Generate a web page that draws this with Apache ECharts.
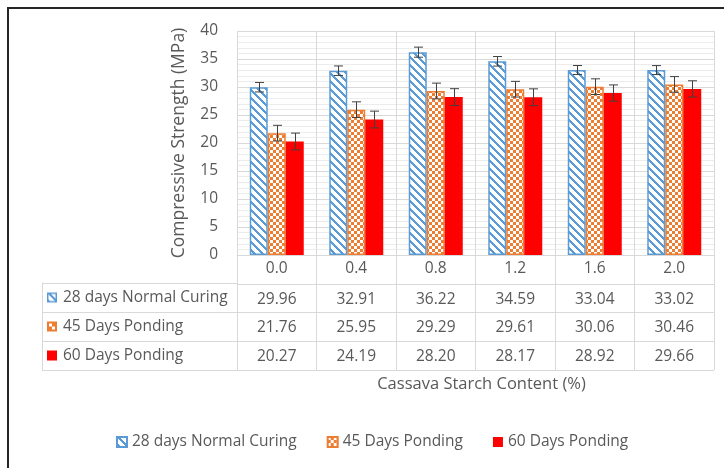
<!DOCTYPE html>
<html>
<head>
<meta charset="utf-8">
<script src="https://cdn.jsdelivr.net/npm/echarts@6/dist/echarts.min.js"></script>
<style>
html,body{margin:0;padding:0;background:#fff;}
#frame{position:absolute;left:7px;top:7px;width:740px;height:480px;border-top:2px solid #262626;border-left:2px solid #262626;}
#chart{position:absolute;left:0;top:0;width:724px;height:468px;}
</style>
</head>
<body>
<div id="frame"></div>
<div id="chart"></div>
<script>
// ---- data ----
const categories = ['0.0', '0.4', '0.8', '1.2', '1.6', '2.0'];
const seriesNames = ['28 days Normal Curing', '45 Days Ponding', '60 Days Ponding'];
const normal28 = [29.96, 32.91, 36.22, 34.59, 33.04, 33.02];
const ponding45 = [21.76, 25.95, 29.29, 29.61, 30.06, 30.46];
const ponding60 = [20.27, 24.19, 28.20, 28.17, 28.92, 29.66];
const err28 = [0.85, 0.85, 0.9, 0.85, 0.8, 0.8];
const err45 = [1.4, 1.4, 1.4, 1.4, 1.4, 1.4];
const err60 = [1.5, 1.5, 1.5, 1.5, 1.45, 1.45];
const yMin = 0, yMax = 40, yInterval = 5;

// ---- styles ----
const BLUE = '#5B9BD5', ORANGE = '#ED7D31', RED = '#FF0000';
const TXT = '#595959', GRID = '#d9d9d9';
const FONT = '"Open Sans", "Liberation Sans", sans-serif';
const FS = 15.5;
const BAR_W = 18;

function stripeCanvas() {
  const c = document.createElement('canvas'); c.width = 8; c.height = 8;
  const g = c.getContext('2d');
  g.fillStyle = '#fff'; g.fillRect(0, 0, 8, 8);
  g.fillStyle = BLUE;
  for (let y = 0; y < 8; y++) for (let x = 0; x < 8; x++) {
    if (((x - y) % 8 + 8) % 8 < 3) g.fillRect(x, y, 1, 1);
  }
  return c;
}
function checkerCanvas() {
  const c = document.createElement('canvas'); c.width = 6; c.height = 6;
  const g = c.getContext('2d');
  g.fillStyle = ORANGE; g.fillRect(0, 0, 6, 6);
  g.fillStyle = '#fff'; g.fillRect(0, 0, 3, 3); g.fillRect(3, 3, 3, 3);
  return c;
}
function iconCanvas(kind) {
  const c = document.createElement('canvas'); c.width = 10; c.height = 10;
  const g = c.getContext('2d');
  if (kind === 0) {
    g.fillStyle = '#fff'; g.fillRect(0, 0, 10, 10);
    g.fillStyle = BLUE;
    for (let y = 0; y < 10; y++) for (let x = 0; x < 10; x++) {
      if (((x - y) % 8 + 8) % 8 < 3) g.fillRect(x, y, 1, 1);
    }
    g.strokeStyle = BLUE; g.lineWidth = 1.5; g.strokeRect(0.75, 0.75, 8.5, 8.5);
  } else if (kind === 1) {
    g.fillStyle = ORANGE; g.fillRect(0, 0, 10, 10);
    g.fillStyle = '#fff'; g.fillRect(2, 2, 3, 3); g.fillRect(5, 5, 3, 3);
  } else {
    g.fillStyle = RED; g.fillRect(0, 0, 10, 10);
  }
  return c;
}

const stripe = { image: stripeCanvas(), repeat: 'repeat' };
const checker = { image: checkerCanvas(), repeat: 'repeat' };
const icons = [iconCanvas(0), iconCanvas(1), iconCanvas(2)];

const values = [normal28, ponding45, ponding60];
const errs = [err28, err45, err60];
const fills = [stripe, checker, RED];
const borders = [BLUE, ORANGE, RED];

const barSeries = values.map((vals, k) => ({
  name: seriesNames[k],
  type: 'bar',
  xAxisIndex: 0, yAxisIndex: 0,
  barWidth: BAR_W,
  barGap: '0%',
  data: vals,
  itemStyle: { color: fills[k], borderColor: borders[k], borderWidth: k === 2 ? 0 : 1.5 },
  z: 2
}));

const errSeries = values.map((vals, k) => ({
  type: 'custom',
  xAxisIndex: 0, yAxisIndex: 0,
  data: vals.map((v, i) => [i, v, errs[k][i]]),
  z: 5,
  silent: true,
  renderItem: function (params, api) {
    const i = api.value(0), v = api.value(1), e = api.value(2);
    const top = api.coord([i, v + e]);
    const bot = api.coord([i, v - e]);
    const x = Math.round(top[0] + (k - 1) * BAR_W) + 0.5;
    const hw = 4.5;
    const st = { stroke: '#404040', lineWidth: 1 };
    return {
      type: 'group',
      children: [
        { type: 'line', shape: { x1: x, y1: top[1], x2: x, y2: bot[1] }, style: st },
        { type: 'line', shape: { x1: x - hw, y1: top[1], x2: x + hw, y2: top[1] }, style: st },
        { type: 'line', shape: { x1: x - hw, y1: bot[1], x2: x + hw, y2: bot[1] }, style: st }
      ]
    };
  }
}));

const tableData = [];
values.forEach((vals, k) => vals.forEach((v, i) => tableData.push([i, k + 1, v])));

const tableSeries = {
  type: 'custom',
  xAxisIndex: 1, yAxisIndex: 1,
  data: tableData,
  silent: true,
  renderItem: function (params, api) {
    const p = api.coord([api.value(0), api.value(1)]);
    return {
      type: 'text',
      x: p[0], y: p[1] + 1,
      style: {
        text: api.value(2).toFixed(2),
        fill: TXT,
        font: FS + 'px ' + FONT,
        align: 'center',
        verticalAlign: 'middle'
      }
    };
  }
};

const rich = { t: { color: TXT, fontSize: FS, fontFamily: FONT, padding: [0, 0, 0, 6] } };
icons.forEach((c, i) => { rich['i' + i] = { width: 10, height: 10, backgroundColor: { image: c } }; });

const option = {
  backgroundColor: 'transparent',
  animation: false,
  textStyle: { fontFamily: FONT },
  legend: {
    data: seriesNames,
    left: 116, top: 434,
    padding: 0,
    itemWidth: 10, itemHeight: 10,
    itemGap: 30,
    icon: 'rect',
    textStyle: { color: TXT, fontSize: FS, fontFamily: FONT }
  },
  grid: [
    { left: 237, right: 10, top: 31, bottom: 213 },
    { left: 237, right: 10, top: 255, bottom: 98 },
    { left: 42, width: 195, top: 283, bottom: 98 }
  ],
  xAxis: [
    {
      type: 'category', gridIndex: 0, data: categories,
      axisLine: { show: true, lineStyle: { color: GRID } },
      axisTick: { show: false },
      splitLine: { show: true, lineStyle: { color: GRID } },
      axisLabel: { color: TXT, fontSize: FS, fontFamily: FONT, margin: 6 }
    },
    {
      type: 'category', gridIndex: 1, data: categories,
      axisLine: { show: false }, axisTick: { show: false }, axisLabel: { show: false },
      splitLine: { show: true, lineStyle: { color: GRID } },
      name: 'Cassava Starch Content (%)', nameLocation: 'middle', nameGap: 6,
      nameTextStyle: { color: TXT, fontSize: 16.5, fontFamily: FONT, verticalAlign: 'top', padding: [0, 0, 0, 12] }
    },
    {
      type: 'value', gridIndex: 2, show: false
    }
  ],
  yAxis: [
    {
      type: 'value', gridIndex: 0, min: yMin, max: yMax, interval: yInterval,
      axisLine: { show: false }, axisTick: { show: false },
      splitLine: { show: true, lineStyle: { color: GRID } },
      minorTick: { show: false, splitNumber: 5 },
      minorSplitLine: { show: true, lineStyle: { color: '#ececec' } },
      axisLabel: { color: TXT, fontSize: FS, fontFamily: FONT, margin: 19 },
      name: 'Compressive Strength (MPa)', nameLocation: 'middle', nameGap: 49,
      nameTextStyle: { color: TXT, fontSize: 17.5, fontFamily: FONT }
    },
    {
      type: 'category', gridIndex: 1, inverse: true,
      data: ['', seriesNames[0], seriesNames[1], seriesNames[2]],
      axisLine: { show: false }, axisTick: { show: false }, axisLabel: { show: false },
      splitLine: { show: true, lineStyle: { color: GRID } }
    },
    {
      type: 'category', gridIndex: 2, inverse: true,
      data: seriesNames,
      axisLine: { show: true, lineStyle: { color: GRID } },
      axisTick: { show: false },
      splitLine: { show: true, lineStyle: { color: GRID } },
      axisLabel: {
        inside: true, margin: 5, align: 'left',
        formatter: function (v, i) { return '{i' + i + '|}{t|' + v + '}'; },
        rich: rich
      }
    }
  ],
  series: [...barSeries, ...errSeries, tableSeries]
};

const chart = echarts.init(document.getElementById('chart'), null, { renderer: 'canvas' });
chart.setOption(option);
</script>
</body>
</html>
